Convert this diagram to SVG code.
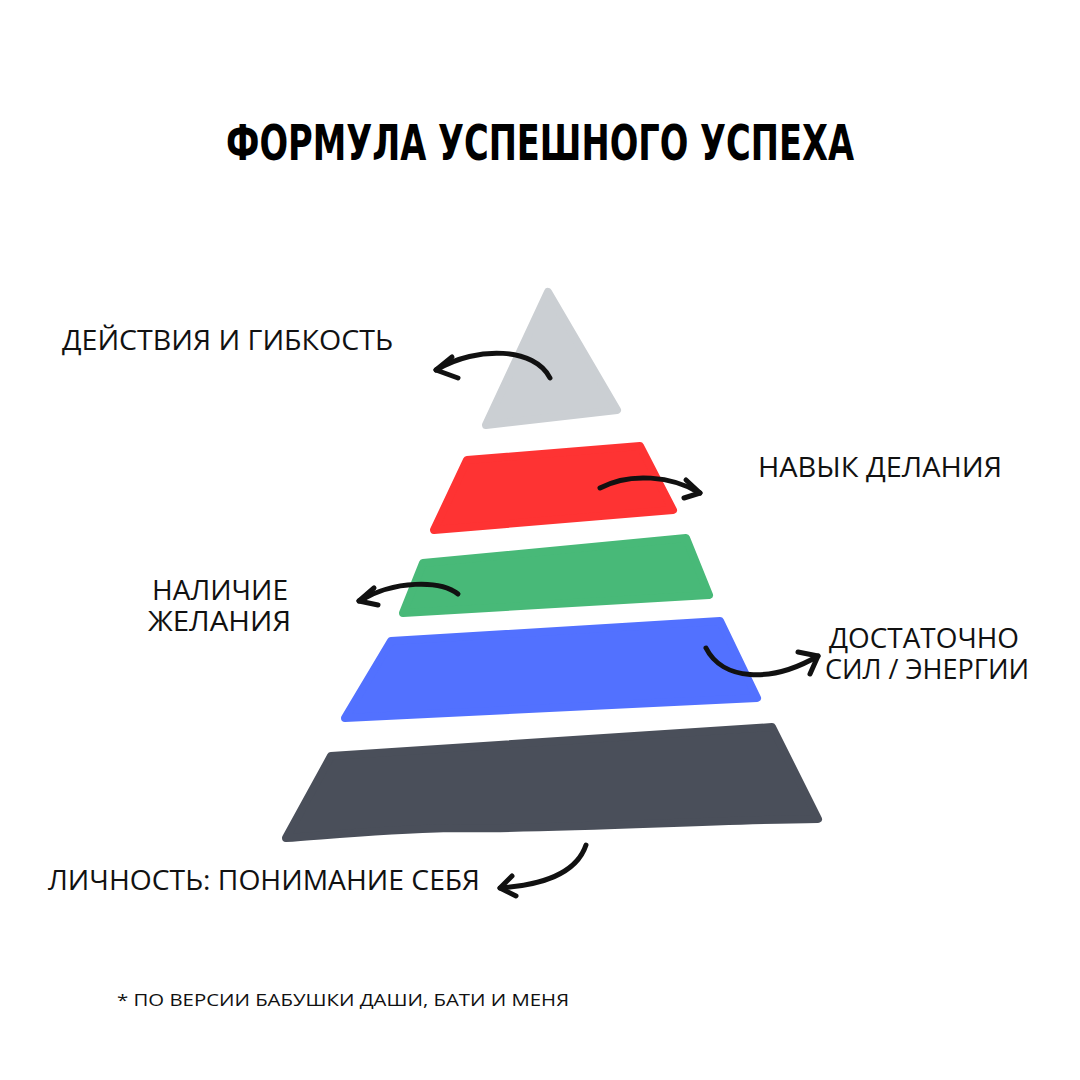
<svg xmlns="http://www.w3.org/2000/svg" width="1080" height="1080" viewBox="0 0 1080 1080">
<style>
.t{font-family:"Open Sans","Liberation Sans",sans-serif;font-size:27px;fill:#111}
.s{font-family:"Open Sans","Liberation Sans",sans-serif;font-size:17px;fill:#111}
.a{fill:none;stroke:#111;stroke-width:5;stroke-linecap:round;stroke-linejoin:round}
.l{stroke-linejoin:round;stroke-width:8}
</style>
<rect width="1080" height="1080" fill="#fff"/>
<text x="540" y="160" text-anchor="middle" font-family="DejaVu Sans Condensed, Liberation Sans Narrow, sans-serif" font-weight="bold" font-size="50" textLength="628" lengthAdjust="spacingAndGlyphs" fill="#000">ФОРМУЛА УСПЕШНОГО УСПЕХА</text>
<g id="level1"><polygon class="l" points="548,292 617,410 486,425" fill="#cbcfd3" stroke="#cbcfd3"/></g>
<g id="level2"><polygon class="l" points="467,460 640,446 673,510 434,530" fill="#fe3333" stroke="#fe3333"/></g>
<g id="level3"><polygon class="l" points="423,563 686,538 709,595 403,613" fill="#48b978" stroke="#48b978"/></g>
<g id="level4"><polygon class="l" points="391,641 720,621 757,698 345,718" fill="#5271ff" stroke="#5271ff"/></g>
<g id="level5"><path class="l" d="M331,756 L772,727 L818,819 C700,820 560,830 450,828 C380,830 330,835 286,838 Z" fill="#4a4f5a" stroke="#4a4f5a"/></g>
<g id="connectors">
<path class="a" d="M550,378 C535,348 478,345 436,370"/><path class="a" d="M452,357 L436,370 L458,378"/>
<path class="a" d="M600,488 C630,472 672,476 700,493"/><path class="a" d="M686,480 L700,493 L684,498"/>
<path class="a" d="M458,594 C440,580 395,580 359,601"/><path class="a" d="M374,588 L359,601 L378,605"/>
<path class="a" d="M706,648 C722,680 770,684 818,656"/><path class="a" d="M798,652 L818,656 L810,674"/>
<path class="a" d="M586,845 C576,875 540,885 500,888"/><path class="a" d="M512,876 L500,888 L516,896"/>
</g>
<g id="labels">
<text class="t" x="62" y="350" textLength="331" lengthAdjust="spacingAndGlyphs">ДЕЙСТВИЯ И ГИБКОСТЬ</text>
<text class="t" x="758" y="477" textLength="244" lengthAdjust="spacingAndGlyphs">НАВЫК ДЕЛАНИЯ</text>
<text class="t" x="152" y="600" textLength="136" lengthAdjust="spacingAndGlyphs">НАЛИЧИЕ</text>
<text class="t" x="148" y="631" textLength="143" lengthAdjust="spacingAndGlyphs">ЖЕЛАНИЯ</text>
<text class="t" x="829" y="648" textLength="190" lengthAdjust="spacingAndGlyphs">ДОСТАТОЧНО</text>
<text class="t" x="825" y="679" textLength="204" lengthAdjust="spacingAndGlyphs">СИЛ / ЭНЕРГИИ</text>
<text class="t" x="48" y="890" textLength="432" lengthAdjust="spacingAndGlyphs">ЛИЧНОСТЬ: ПОНИМАНИЕ СЕБЯ</text>
<text class="s" x="117" y="1006" textLength="452" lengthAdjust="spacingAndGlyphs">* ПО ВЕРСИИ БАБУШКИ ДАШИ, БАТИ И МЕНЯ</text>
</g>
</svg>
